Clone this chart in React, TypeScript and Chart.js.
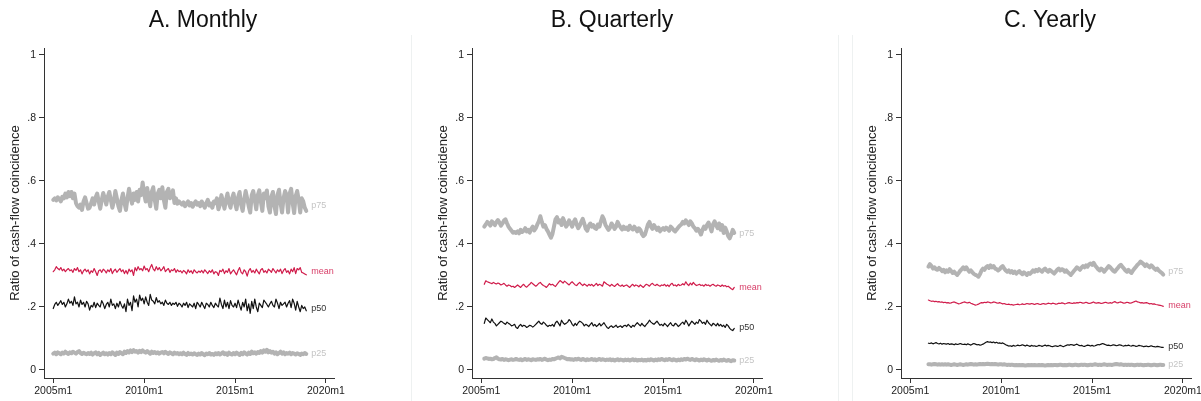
import React, { useEffect, useRef } from "react";
import { Chart, registerables } from "chart.js";

Chart.register(...registerables);

// ---------- axis / labels ----------
const X_TICK_VALUES = [0, 60, 120, 180]; // months since 2005m1
const X_TICK_LABELS = ["2005m1", "2010m1", "2015m1", "2020m1"];
const Y_TICK_VALUES = [0, 0.2, 0.4, 0.6, 0.8, 1];
const Y_TICK_LABELS = ["0", ".2", ".4", ".6", ".8", "1"];
const Y_TITLE = "Ratio of cash-flow coincidence";
const PANEL_TITLES = ["A. Monthly", "B. Quarterly", "C. Yearly"];
const PANEL_START_MONTH = [0, 2, 12]; // first observation, months since 2005m1
const SERIES_NAMES = ["p75", "mean", "p50", "p25"];

// ---------- A. Monthly (2005m1 - 2018m12) ----------
const A_P75 = [
  .540, .545, .538, .548, .542, .535, .550, .545, .560, .548, .565, .552,
  .565, .545, .560, .530, .520, .515, .525, .508, .535, .548, .530, .512,
  .515, .530, .545, .525, .548, .560, .535, .512, .540, .562, .545, .525,
  .550, .565, .540, .515, .535, .568, .545, .520, .505, .540, .560, .530,
  .508, .545, .575, .550, .528, .560, .540, .565, .535, .572, .555, .595,
  .560, .535, .578, .545, .520, .565, .580, .540, .512, .560, .572, .545,
  .580, .540, .515, .565, .575, .545, .555, .570, .530, .545, .528, .535,
  .530, .525, .532, .520, .528, .535, .522, .530, .518, .528, .535, .525,
  .530, .520, .535, .525, .515, .530, .540, .522, .528, .515, .535, .530,
  .545, .510, .525, .555, .535, .512, .540, .560, .530, .515, .545, .560,
  .530, .510, .548, .565, .525, .505, .540, .568, .545, .520, .500, .555,
  .568, .540, .510, .555, .570, .535, .505, .560, .545, .570, .520, .500,
  .550, .565, .520, .495, .555, .572, .530, .500, .545, .568, .555, .500,
  .560, .575, .530, .498, .552, .568, .540, .500, .545, .535, .515, .505,
];
const A_MEAN = [
  .312, .318, .328, .322, .318, .325, .315, .320, .312, .318, .322, .315,
  .318, .310, .322, .316, .325, .312, .318, .305, .315, .320, .312, .318,
  .305, .315, .310, .322, .312, .300, .315, .318, .310, .320, .316, .308,
  .318, .312, .322, .306, .315, .320, .310, .316, .322, .312, .318, .306,
  .316, .305, .320, .312, .318, .300, .325, .315, .328, .318, .322, .315,
  .330, .318, .322, .312, .325, .335, .320, .315, .328, .318, .325, .315,
  .320, .328, .312, .318, .322, .310, .318, .315, .322, .310, .318, .312,
  .315, .308, .316, .312, .305, .318, .310, .315, .306, .318, .312, .308,
  .314, .310, .316, .308, .318, .312, .306, .315, .310, .318, .305, .312,
  .310, .300, .316, .312, .320, .306, .315, .310, .322, .305, .312, .318,
  .310, .302, .316, .325, .310, .305, .318, .312, .298, .315, .322, .310,
  .316, .308, .320, .312, .305, .318, .322, .310, .315, .308, .320, .316,
  .310, .322, .315, .308, .318, .312, .320, .306, .316, .322, .310, .315,
  .305, .320, .312, .325, .306, .322, .318, .325, .310, .308, .305, .302,
];
const A_P50 = [
  .195, .208, .215, .205, .212, .220, .208, .215, .200, .210, .225, .212,
  .218, .205, .232, .210, .215, .200, .222, .208, .215, .200, .218, .210,
  .190, .205, .200, .215, .198, .212, .205, .200, .220, .210, .195, .208,
  .215, .200, .225, .205, .210, .195, .212, .200, .218, .205, .196, .210,
  .185, .225, .205, .215, .188, .235, .215, .225, .200, .238, .220, .228,
  .210, .232, .215, .205, .240, .222, .218, .210, .230, .215, .220, .210,
  .215, .205, .222, .212, .208, .215, .205, .212, .208, .215, .202, .212,
  .208, .200, .212, .205, .215, .198, .210, .205, .200, .212, .195, .215,
  .208, .200, .215, .205, .195, .212, .208, .200, .215, .205, .198, .212,
  .205, .200, .228, .208, .195, .222, .200, .215, .195, .220, .205, .200,
  .212, .198, .222, .205, .190, .215, .200, .225, .188, .210, .180, .218,
  .195, .225, .200, .185, .212, .205, .198, .222, .215, .208, .200, .210,
  .218, .205, .200, .225, .212, .195, .215, .205, .210, .215, .200, .212,
  .220, .198, .225, .212, .190, .218, .200, .185, .205, .195, .200, .188,
];
const A_P25 = [
  .052, .055, .050, .056, .053, .050, .055, .052, .058, .054, .051, .056,
  .053, .058, .055, .052, .057, .060, .054, .051, .055, .052, .050, .054,
  .051, .055, .049, .053, .056, .050, .054, .048, .052, .055, .050, .053,
  .049, .054, .050, .056, .052, .048, .055, .051, .057, .053, .050, .058,
  .054, .060, .056, .062, .057, .063, .058, .060, .055, .061, .057, .062,
  .058, .055, .060, .056, .052, .058, .054, .057, .053, .056, .052, .055,
  .057, .053, .058, .054, .051, .056, .053, .050, .055, .052, .054, .050,
  .053, .050, .055, .051, .048, .054, .050, .052, .049, .053, .050, .048,
  .052, .049, .054, .050, .047, .052, .050, .054, .049, .051, .048, .053,
  .050, .054, .049, .052, .056, .050, .053, .048, .055, .051, .049, .054,
  .050, .055, .052, .048, .054, .050, .056, .052, .049, .055, .051, .058,
  .053, .056, .052, .057, .054, .060, .055, .062, .058, .064, .056, .060,
  .055, .058, .052, .056, .050, .054, .058, .052, .056, .050, .054, .052,
  .055, .050, .054, .052, .049, .053, .051, .048, .052, .050, .054, .051,
];

// ---------- B. Quarterly (2005m3 - 2018m12) ----------
const B_P75 = [
  .455, .462, .470, .465, .458, .472, .466, .460, .470, .476,
  .468, .458, .465, .474, .478, .466, .455, .448, .442, .436, .438, .435,
  .440, .434, .445, .438, .442, .450, .440, .445, .436, .448, .455, .443,
  .450, .462, .472, .488, .470, .455, .460, .448, .440, .430, .420, .432,
  .455, .478, .485, .468, .475, .460, .482, .470, .455, .462, .475, .466,
  .455, .470, .478, .462, .450, .458, .470, .480, .465, .448, .442, .458,
  .465, .455, .460, .450, .448, .462, .455, .472, .488, .478, .460, .452,
  .445, .452, .465, .458, .448, .455, .470, .460, .452, .446, .455, .448,
  .452, .445, .458, .450, .446, .455, .448, .440, .450, .445, .432, .425,
  .430, .445, .462, .470, .455, .448, .460, .452, .445, .452, .440, .446,
  .450, .445, .452, .448, .442, .455, .450, .444, .440, .446, .452, .458,
  .462, .470, .465, .475, .468, .460, .472, .465, .455, .450, .442, .448,
  .440, .430, .445, .455, .448, .460, .468, .455, .440, .462, .472, .460,
  .450, .465, .445, .460, .435, .452, .440, .425, .418, .430, .445, .435,
];
const B_MEAN = [
  .272, .283, .280, .278, .276, .274, .278, .275, .273, .276,
  .274, .270, .272, .275, .270, .266, .270, .268, .264, .266, .262, .266,
  .270, .266, .262, .268, .272, .266, .263, .268, .272, .278, .274, .270,
  .266, .270, .275, .278, .272, .268, .266, .262, .268, .274, .270, .272,
  .268, .265, .272, .278, .284, .280, .276, .282, .278, .274, .270, .276,
  .280, .275, .270, .268, .274, .278, .272, .268, .273, .270, .266, .272,
  .268, .272, .266, .270, .275, .268, .272, .270, .266, .280, .276, .272,
  .270, .266, .272, .268, .265, .270, .274, .268, .266, .270, .265, .268,
  .270, .266, .262, .268, .272, .266, .270, .268, .264, .270, .266, .262,
  .268, .272, .270, .266, .272, .275, .270, .268, .272, .268, .266, .270,
  .268, .272, .266, .270, .265, .272, .275, .268, .270, .266, .272, .268,
  .270, .274, .270, .280, .272, .268, .276, .270, .278, .272, .268, .270,
  .272, .268, .270, .266, .272, .268, .270, .266, .270, .272, .268, .266,
  .270, .268, .265, .270, .266, .268, .264, .266, .262, .258, .255, .262,
];
const B_P50 = [
  .148, .165, .160, .155, .150, .162, .152, .148, .140, .145,
  .150, .155, .152, .148, .145, .152, .148, .145, .140, .142, .145, .135,
  .132, .140, .145, .138, .142, .140, .135, .138, .142, .140, .136, .140,
  .145, .150, .155, .148, .145, .152, .148, .142, .138, .142, .140, .145,
  .138, .150, .155, .148, .140, .158, .150, .145, .148, .152, .160, .155,
  .145, .140, .148, .142, .150, .155, .152, .148, .140, .145, .142, .138,
  .145, .150, .140, .145, .138, .142, .148, .140, .145, .150, .142, .135,
  .132, .138, .140, .135, .138, .142, .135, .138, .140, .135, .140, .142,
  .138, .145, .140, .135, .142, .138, .145, .150, .145, .140, .148, .142,
  .138, .145, .150, .158, .152, .148, .145, .150, .155, .148, .142, .145,
  .140, .148, .143, .138, .145, .150, .142, .140, .148, .145, .138, .142,
  .148, .152, .145, .158, .150, .140, .148, .155, .150, .145, .152, .148,
  .160, .155, .148, .152, .145, .158, .150, .145, .140, .148, .145, .140,
  .148, .140, .145, .138, .142, .135, .145, .140, .132, .128, .125, .132,
];
const B_P25 = [
  .036, .038, .037, .035, .036, .034, .035, .038, .040, .036,
  .034, .033, .035, .032, .034, .033, .031, .033, .034, .032, .033, .035,
  .033, .032, .034, .031, .033, .035, .032, .034, .033, .031, .034, .033,
  .032, .034, .033, .035, .032, .034, .036, .033, .031, .033, .032, .035,
  .034, .036, .038, .040, .037, .042, .040, .038, .036, .034, .035, .033,
  .034, .032, .035, .033, .036, .034, .032, .035, .033, .031, .034, .032,
  .033, .035, .032, .034, .031, .033, .035, .032, .034, .033, .031, .033,
  .032, .034, .031, .033, .030, .032, .034, .031, .033, .032, .030, .033,
  .031, .033, .030, .032, .034, .031, .033, .030, .032, .031, .033, .030,
  .032, .030, .033, .031, .034, .032, .030, .033, .031, .034, .032, .035,
  .033, .031, .034, .032, .035, .033, .031, .034, .032, .030, .033, .031,
  .034, .032, .035, .033, .036, .034, .032, .035, .033, .031, .034, .032,
  .030, .033, .031, .034, .032, .030, .033, .031, .029, .032, .030, .033,
  .031, .029, .032, .030, .033, .031, .029, .032, .030, .028, .031, .030,
];

// ---------- C. Yearly (2006m1 - 2018m12) ----------
const C_P75 = [
  .328, .336, .330, .322, .326, .320, .318, .324, .320, .314, .318, .310,
  .316, .312, .320, .314, .308, .312, .306, .302, .308, .315, .320, .326,
  .320, .326, .318, .312, .316, .310, .305, .302, .300, .296, .304, .315,
  .322, .318, .326, .330, .324, .332, .326, .330, .322, .320, .316, .320,
  .326, .330, .322, .316, .312, .316, .310, .314, .308, .312, .306, .310,
  .314, .308, .304, .310, .306, .302, .308, .305, .310, .316, .312, .318,
  .314, .320, .316, .312, .318, .322, .316, .312, .318, .314, .310, .306,
  .312, .318, .322, .316, .320, .318, .312, .316, .310, .306, .302, .308,
  .314, .320, .326, .322, .318, .325, .330, .326, .332, .328, .335, .338,
  .334, .340, .332, .326, .320, .316, .322, .318, .312, .318, .324, .330,
  .326, .320, .315, .312, .318, .324, .330, .334, .328, .322, .316, .312,
  .318, .312, .308, .316, .322, .328, .334, .338, .344, .340, .336, .330,
  .335, .330, .326, .332, .328, .322, .318, .322, .316, .312, .308, .303,
];
const C_MEAN = [
  .222, .220, .218, .219, .217, .218, .216, .217, .215, .216, .214, .215,
  .213, .214, .212, .213, .215, .216, .214, .212, .210, .211, .213, .215,
  .216, .214, .213, .215, .212, .210, .208, .206, .207, .209, .212, .214,
  .213, .215, .214, .216, .215, .213, .214, .216, .215, .213, .212, .214,
  .212, .210, .211, .209, .208, .209, .207, .208, .206, .207, .208, .209,
  .207, .208, .210, .208, .209, .211, .210, .209, .211, .210, .208, .210,
  .211, .209, .208, .210, .211, .209, .210, .212, .211, .210, .212, .211,
  .209, .210, .212, .211, .213, .212, .210, .211, .213, .214, .212, .211,
  .213, .212, .214, .213, .215, .214, .212, .213, .215, .213, .211, .212,
  .214, .216, .213, .212, .214, .213, .211, .212, .214, .215, .213, .212,
  .214, .212, .215, .217, .214, .213, .215, .216, .214, .212, .213, .215,
  .214, .212, .213, .215, .217, .219, .216, .215, .213, .214, .212, .213,
  .214, .212, .210, .211, .209, .210, .208, .207, .206, .205, .204, .202,
];
const C_P50 = [
  .085, .084, .086, .083, .085, .087, .084, .083, .085, .082, .084, .083,
  .082, .084, .081, .083, .082, .080, .083, .081, .082, .084, .082, .081,
  .082, .080, .083, .081, .079, .082, .084, .082, .080, .081, .079, .080,
  .082, .085, .088, .090, .088, .089, .087, .089, .086, .088, .085, .086,
  .084, .086, .083, .080, .078, .076, .077, .075, .078, .076, .077, .079,
  .077, .078, .080, .078, .076, .079, .077, .075, .078, .076, .077, .075,
  .076, .078, .077, .075, .077, .079, .076, .078, .077, .075, .074, .076,
  .077, .075, .076, .078, .076, .074, .076, .078, .080, .079, .081, .080,
  .078, .080, .082, .079, .077, .078, .076, .075, .077, .079, .078, .076,
  .078, .076, .077, .079, .081, .080, .082, .084, .082, .080, .078, .079,
  .077, .078, .080, .079, .077, .078, .080, .079, .077, .076, .078, .077,
  .079, .077, .076, .078, .077, .075, .076, .078, .077, .076, .074, .075,
  .076, .074, .075, .077, .075, .074, .073, .075, .074, .073, .072, .072,
];
const C_P25 = [
  .018, .018, .017, .018, .019, .018, .017, .018, .017, .018, .017, .018,
  .017, .018, .017, .016, .017, .018, .017, .016, .017, .018, .017, .016,
  .017, .018, .017, .018, .019, .018, .017, .018, .017, .018, .019, .018,
  .019, .018, .019, .020, .019, .018, .019, .018, .019, .018, .017, .018,
  .018, .017, .018, .017, .016, .017, .016, .017, .016, .015, .016, .015,
  .016, .015, .016, .015, .014, .015, .016, .015, .016, .015, .016, .015,
  .015, .016, .015, .016, .015, .014, .015, .016, .015, .016, .015, .016,
  .016, .015, .016, .017, .016, .015, .016, .015, .016, .017, .016, .015,
  .016, .017, .016, .015, .016, .017, .016, .017, .016, .015, .016, .017,
  .016, .017, .018, .017, .016, .017, .016, .017, .018, .017, .016, .017,
  .017, .016, .017, .018, .019, .018, .017, .018, .017, .016, .017, .016,
  .017, .016, .017, .016, .015, .016, .017, .016, .017, .016, .015, .016,
  .016, .017, .016, .015, .016, .017, .016, .015, .016, .017, .016, .016,
];

const PANEL_SERIES = [
  [A_P75, A_MEAN, A_P50, A_P25],
  [B_P75, B_MEAN, B_P50, B_P25],
  [C_P75, C_MEAN, C_P50, C_P25],
];

// ---------- styling ----------
const FONT = "'Liberation Sans', Arial, Helvetica, sans-serif";
const LINE_COLORS = ["#b3b3b3", "#d01c4b", "#111111", "#b3b3b3"];
const LINE_WIDTHS = [4, 1.2, 1.2, 4];
const LABEL_COLORS = ["#c4c4c4", "#d8406a", "#333333", "#c4c4c4"];
const AXIS_COLOR = "#333333";
const CANVAS_W = 370;
const CANVAS_H = 401;
const PANEL_LEFT = [0, 428, 857];
const TITLE_CENTER = [203, 612, 1050];
const SEPARATORS = [410.5, 838, 852];

const endLabels = {
  id: "endLabels",
  afterDatasetsDraw(chart: any) {
    const ctx = chart.ctx;
    const yScale = chart.scales.y;
    chart.data.datasets.forEach((ds: any, i: number) => {
      const meta = chart.getDatasetMeta(i);
      const pts = meta.data;
      const last = pts[pts.length - 1];
      const tail = ds.data.slice(-6).map((p: any) => p.y);
      const avg = tail.reduce((a: number, b: number) => a + b, 0) / tail.length;
      ctx.save();
      ctx.font = `9px ${FONT}`;
      ctx.fillStyle = ds.labelColor;
      ctx.textAlign = "left";
      ctx.textBaseline = "middle";
      ctx.fillText(ds.label, last.x + 5, yScale.getPixelForValue(avg));
      ctx.restore();
    });
  },
};

function Panel({ index }: { index: number }) {
  const ref = useRef<HTMLCanvasElement | null>(null);
  useEffect(() => {
    if (!ref.current) return;
    const start = PANEL_START_MONTH[index];
    const datasets = PANEL_SERIES[index].map((vals, s) => ({
      label: SERIES_NAMES[s],
      labelColor: LABEL_COLORS[s],
      data: vals.map((v, i) => ({ x: start + i, y: v })),
      borderColor: LINE_COLORS[s],
      borderWidth: LINE_WIDTHS[s],
      pointRadius: 0,
      tension: 0,
      fill: false,
      borderJoinStyle: "round" as const,
      borderCapStyle: "round" as const,
    }));
    const chart = new Chart(ref.current, {
      type: "line",
      data: { datasets },
      plugins: [endLabels],
      options: {
        responsive: false,
        animation: false,
        devicePixelRatio: 1,
        layout: { padding: { left: 0, right: CANVAS_W - 334, top: 48, bottom: 0 } },
        plugins: { legend: { display: false }, tooltip: { enabled: false }, title: { display: false } },
        scales: {
          x: {
            type: "linear",
            min: -6.1,
            max: 185.3,
            afterBuildTicks: (s: any) => {
              s.ticks = X_TICK_VALUES.map((v) => ({ value: v }));
            },
            afterFit: (s: any) => {
              s.height = 23;
            },
            grid: { display: true, drawOnChartArea: false, drawTicks: true, tickLength: 5, tickColor: AXIS_COLOR },
            border: { display: true, color: AXIS_COLOR, width: 1 },
            ticks: {
              autoSkip: false,
              maxRotation: 0,
              minRotation: 0,
              padding: 2,
              color: "#222",
              font: { size: 10.5, family: FONT },
              callback: (_v: any, i: number) => X_TICK_LABELS[i],
            },
          },
          y: {
            type: "linear",
            min: -0.0254,
            max: 1.022,
            afterBuildTicks: (s: any) => {
              s.ticks = Y_TICK_VALUES.map((v) => ({ value: v }));
            },
            afterFit: (s: any) => {
              s.width = 44;
            },
            grid: { display: true, drawOnChartArea: false, drawTicks: true, tickLength: 5, tickColor: AXIS_COLOR },
            border: { display: true, color: AXIS_COLOR, width: 1 },
            ticks: {
              padding: 3,
              color: "#222",
              font: { size: 10.5, family: FONT },
              callback: (_v: any, i: number) => Y_TICK_LABELS[i],
            },
            title: {
              display: true,
              text: Y_TITLE,
              color: "#222",
              font: { size: 13, family: FONT },
              padding: { top: 7.4, bottom: 0 },
            },
          },
        },
      } as any,
    });
    return () => chart.destroy();
  }, [index]);
  return (
    <canvas
      ref={ref}
      width={CANVAS_W}
      height={CANVAS_H}
      style={{ position: "absolute", left: PANEL_LEFT[index], top: 0, width: CANVAS_W, height: CANVAS_H }}
    />
  );
}

export default function App() {
  return (
    <div
      style={{
        position: "fixed",
        left: 0,
        top: 0,
        width: 1201,
        height: 401,
        overflow: "hidden",
        background: "#ffffff",
        fontFamily: FONT,
      }}
    >
      {SEPARATORS.map((x, i) => (
        <div
          key={"sep" + i}
          style={{ position: "absolute", left: x, top: 35, width: 1, height: 366, background: "#eef1f1" }}
        />
      ))}
      {[0, 1, 2].map((i) => (
        <Panel key={i} index={i} />
      ))}
      {PANEL_TITLES.map((t, i) => (
        <div
          key={"t" + i}
          style={{
            position: "absolute",
            left: TITLE_CENTER[i],
            top: 8,
            transform: "translateX(-50%)",
            fontSize: 23,
            lineHeight: "23px",
            color: "#111",
            whiteSpace: "nowrap",
          }}
        >
          {t}
        </div>
      ))}
    </div>
  );
}
